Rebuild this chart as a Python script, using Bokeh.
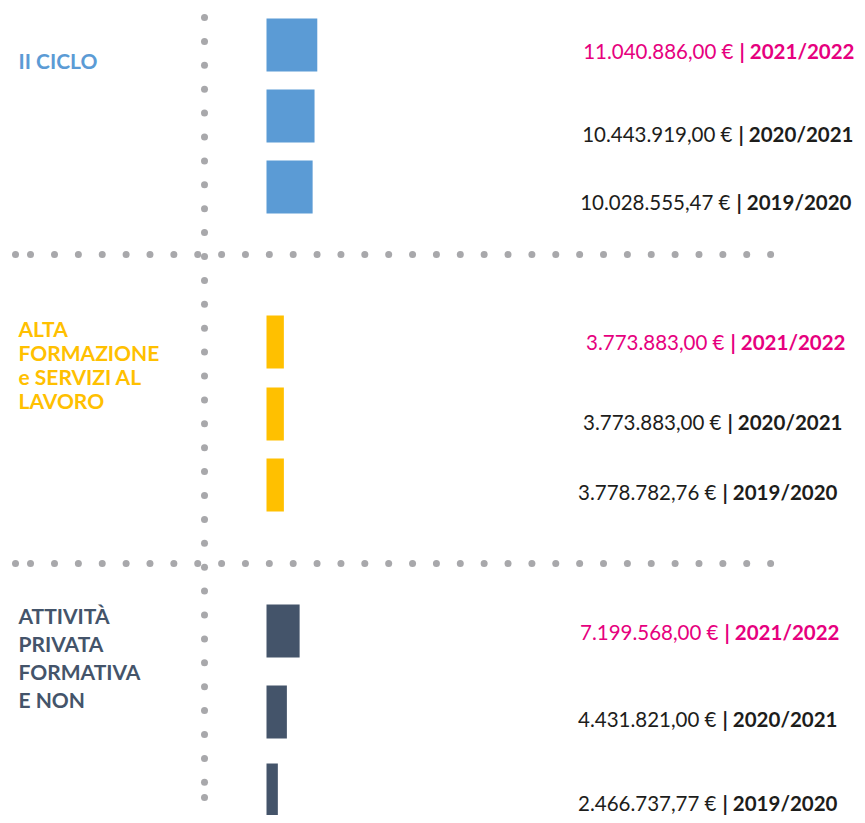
from bokeh.plotting import figure
from bokeh.models import Range1d, ColumnDataSource
from bokeh.core.properties import value
from bokeh.embed import file_html
from bokeh.resources import INLINE
import numpy as np

# ---------------- data ----------------
categories = ["II CICLO", "ALTA FORMAZIONE e SERVIZI AL LAVORO", "ATTIVITÀ PRIVATA FORMATIVA E NON"]
category_lines = [["II CICLO"],
                  ["ALTA", "FORMAZIONE", "e SERVIZI AL", "LAVORO"],
                  ["ATTIVITÀ", "PRIVATA", "FORMATIVA", "E NON"]]
years = ["2021/2022", "2020/2021", "2019/2020"]
ii_ciclo = [11040886.00, 10443919.00, 10028555.47]
alta_formazione = [3773883.00, 3773883.00, 3778782.76]
attivita_privata = [7199568.00, 4431821.00, 2466737.77]

# ---------------- styles / layout ----------------
cat_colors = ["#5B9BD5", "#FFC000", "#44546A"]
highlight = "#E6007E"
dark = "#1D1D1B"
dot_color = "#A8A8AB"
FONT = "Lato"

# picture-pixel layout (y grows downward)
bar_centers = [[44.5, 115.5, 186.5], [341.5, 413.5, 484.5], [630.5, 711.5, 789.5]]
bar_h = 53
label_centers = [[51, 134.5, 202.5], [342.5, 422.5, 492.5], [632.5, 719.5, 803]]
pipe_x = [[739, 738, 736], [730, 727, 722], [724, 722, 722]]
cat_first_line = [61, 329, 616]
cat_line_gap = [24, 24, 28]
TEXT_DY = -1.0   # cap-centre -> glyph y as rendered

W, H = 857, 815
p = figure(width=W, height=H, output_backend="svg", toolbar_location=None,
           x_range=Range1d(0, W), y_range=Range1d(H, 0),
           min_border=0, outline_line_color=None)
p.axis.visible = False
p.grid.visible = False
p.background_fill_color = "white"
p.border_fill_color = "white"

# money scale: 0 at px 266, 4.6 px per million
px0, k = 266.0, 4.6e-6
p.extra_x_ranges = {"money": Range1d((0 - px0) / k, (W - px0) / k)}

# dotted separators
vy = list(17 + 23.9 * np.arange(33)) + [797]
p.scatter(x=[204] * len(vy), y=vy, size=7, color=dot_color, line_color=None)
hx = [15, 30] + list(54 + 23.87 * np.arange(31))
for yy in (254, 563):
    p.scatter(x=hx, y=[yy] * len(hx), size=7, color=dot_color, line_color=None)

series = [ii_ciclo, alta_formazione, attivita_privata]


def it_fmt(v):
    s = f"{v:,.2f}"
    return s.replace(",", "X").replace(".", ",").replace("X", ".") + " €"


for i, vals in enumerate(series):
    src = ColumnDataSource(dict(y=bar_centers[i], right=vals, left=[0] * len(vals)))
    p.hbar(y="y", left="left", right="right", height=bar_h, source=src,
           color=cat_colors[i], line_color=None, x_range_name="money")

    # category label
    for j, line in enumerate(category_lines[i]):
        p.text(x=[18], y=[cat_first_line[i] + j * cat_line_gap[i] + TEXT_DY], text=[line],
               text_font=value(FONT), text_font_style="bold", text_font_size="21px",
               text_color=cat_colors[i], text_align="left", text_baseline="alphabetic")

    # value labels
    for j, v in enumerate(vals):
        col = highlight if j == 0 else dark
        yb = label_centers[i][j] + TEXT_DY
        p.text(x=[pipe_x[i][j] - 6], y=[yb], text=[it_fmt(v)],
               text_font=value(FONT), text_font_size="20.5px", text_color=col,
               text_align="right", text_baseline="alphabetic")
        p.text(x=[pipe_x[i][j]], y=[yb], text=["| " + years[j]],
               text_font=value(FONT), text_font_style="bold", text_font_size="20.5px",
               text_color=col, text_align="left", text_baseline="alphabetic")

open("out.html", "w").write(file_html(p, INLINE))
